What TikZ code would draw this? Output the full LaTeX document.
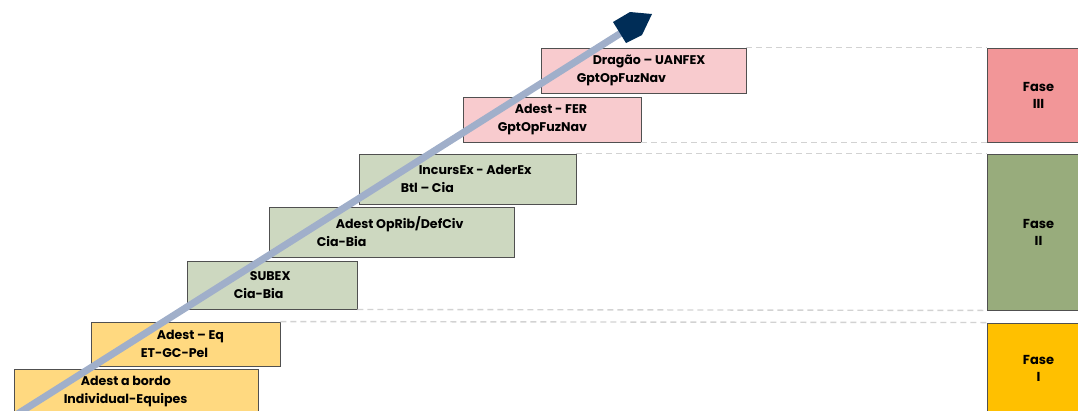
\documentclass[tikz,border=0pt]{standalone}
\usepackage{fontspec}
\setmainfont{Poppins}
\usetikzlibrary{positioning, calc}
\definecolor{ambfill}{RGB}{255, 217, 128}
\definecolor{ambfase}{RGB}{255, 192, 0}
\definecolor{sagefill}{RGB}{205, 216, 192}
\definecolor{sagefase}{RGB}{152, 172, 124}
\definecolor{rosefill}{RGB}{248, 203, 206}
\definecolor{rosefase}{RGB}{242, 150, 152}
\definecolor{shaftblue}{RGB}{160, 175, 202}
\definecolor{headnavy}{RGB}{0, 45, 87}
\definecolor{edgegray}{RGB}{80, 80, 80}
\tikzset{
  lvl/.style={
    rectangle, draw=edgegray, line width=0.9pt, inner sep=0pt
  },
  ybox/.style={lvl, fill=ambfill},
  gbox/.style={lvl, fill=sagefill},
  pbox/.style={lvl, fill=rosefill},
  fbox/.style={
    rectangle, draw=edgegray, line width=0.9pt,
    minimum width=103, align=center, inner sep=0pt,
    font=\fontsize{13}{17}\selectfont\bfseries
  },
  txt/.style={
    anchor=west, align=left, inner sep=0pt,
    font=\fontsize{12.6}{18}\selectfont\bfseries
  },
  sep/.style={dashed, dash pattern=on 6pt off 4pt, line width=1.4pt, color=gray!35},
}

\begin{document}
\begin{tikzpicture}[x=1pt, y=-1pt]
        \path[use as bounding box, clip] (0,0) rectangle (1078,410);
        % level boxes
        \node[ybox, minimum width=244, minimum height=46] (bordo)  at (136,392)   {};
        \node[ybox, minimum width=189, minimum height=44] (eq)     at (185.5,344) {};
        \node[gbox, minimum width=170, minimum height=48] (subex)  at (272,285)   {};
        \node[gbox, minimum width=245, minimum height=50] (oprib)  at (391.5,232) {};
        \node[gbox, minimum width=217, minimum height=50] (incurs) at (467.5,179) {};
        \node[pbox, minimum width=178, minimum height=45] (fer)    at (552,119.5) {};
        \node[pbox, minimum width=205, minimum height=45] (dragao) at (643.5,70.5) {};
        % phases
        \node[fbox, fill=rosefase, minimum height=94]  (fase3) at (1038.5,95)  {Fase\\III};
        \node[fbox, fill=sagefase, minimum height=156] (fase2) at (1038.5,232) {Fase\\II};
        \node[fbox, fill=ambfase,  minimum height=90]  (fase1) at (1038.5,368) {Fase\\I};
        \draw[sep] (dragao.north east) -- (fase3.north west);
        \draw[sep] (fer.south east)    -- (fase3.south west);
        \draw[sep] (incurs.north east) -- (fase2.north west);
        \draw[sep] (subex.south east)  -- (fase2.south west);
        \draw[sep] (eq.north east)     -- (fase1.north west);
        % rising arrow
        \coordinate (rise0) at (0,425);
        \coordinate (rise1) at (621,33);
        \draw[shaftblue, line width=7pt] (rise0) -- (rise1);
        \fill[headnavy] (613,22) -- (630,12) -- (652,14) -- (642,35) -- (626,43) -- cycle;
        % labels
        \node[txt] (bordot)  at ([xshift=50]bordo.west)  {\hspace*{17pt}Adest a bordo\\Individual-Equipes};
        \node[txt] (eqt)     at ([xshift=50]eq.west)     {\hspace*{16pt}Adest -- Eq\\ET-GC-Pel};
        \node[txt] (subext)  at ([xshift=47]subex.west)  {\hspace*{16pt}SUBEX\\Cia-Bia};
        \node[txt] (opribt)  at ([xshift=48]oprib.west)  {\hspace*{19pt}Adest OpRib/DefCiv\\Cia-Bia};
        \node[txt] (incurst) at ([xshift=42]incurs.west) {\hspace*{18pt}IncursEx - AderEx\\Btl -- Cia};
        \node[txt] (fert)    at ([xshift=35]fer.west)    {\hspace*{17pt}Adest - FER\\GptOpFuzNav};
        \node[txt] (dragaot) at ([xshift=36]dragao.west) {\hspace*{16pt}Dragão -- UANFEX\\GptOpFuzNav};
      \end{tikzpicture}
\end{document}
